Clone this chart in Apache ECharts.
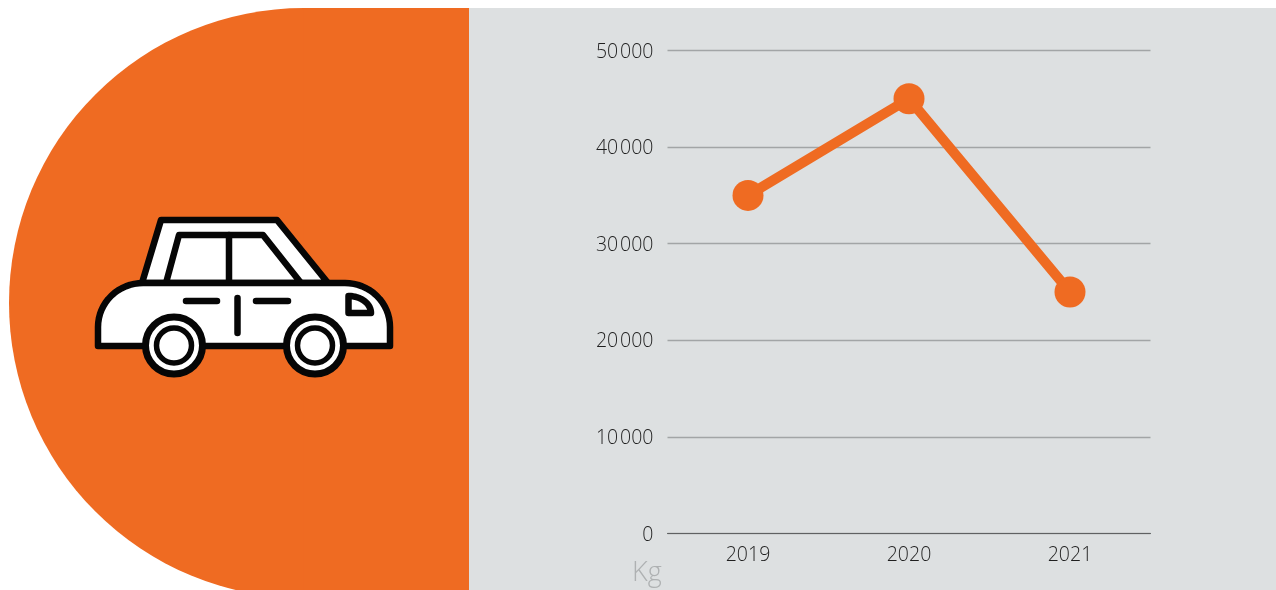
<!DOCTYPE html>
<html>
<head>
<meta charset="utf-8">
<style>html,body{margin:0;padding:0;background:#fff;overflow:hidden}#c{width:1276px;height:590px}</style>
<script src="https://cdn.jsdelivr.net/npm/echarts@6/dist/echarts.min.js"></script>
</head>
<body>
<div id="c"></div>
<script>
const categories = ['2019', '2020', '2021'];
const values = [35000, 45000, 25000];
const yTicks = [0, 10000, 20000, 30000, 40000, 50000];
const unitLabel = 'Kg';

const ORANGE = '#EF6B22', GREY = '#DDE0E1', INK = '#060606';
const carLine = { stroke: INK, lineWidth: 6.5, lineJoin: 'round', lineCap: 'round' };
const poly = (points, fill) => ({ type: 'polygon', silent: true, z: 1, shape: { points }, style: Object.assign({ fill: fill || '#fff' }, carLine) });
const open = (points) => ({ type: 'polyline', silent: true, z: 1, shape: { points }, style: Object.assign({ fill: 'none' }, carLine) });
const corner = (cx, cy, rx, ry, from, to) => {
  const pts = [];
  for (let i = 0; i <= 16; i++) {
    const a = (from + (to - from) * i / 16) * Math.PI / 180;
    pts.push([cx + rx * Math.cos(a), cy + ry * Math.sin(a)]);
  }
  return pts;
};
const wheel = (cx) => [
  { type: 'circle', silent: true, z: 2, shape: { cx, cy: 345.5, r: 28.5 }, style: { fill: '#fff', stroke: INK, lineWidth: 7 } },
  { type: 'circle', silent: true, z: 2, shape: { cx, cy: 345.5, r: 17.5 }, style: { fill: '#fff', stroke: INK, lineWidth: 5.5 } }
];

const chart = echarts.init(document.getElementById('c'), null, { renderer: 'canvas' });
chart.setOption({
  animation: false,
  backgroundColor: '#fff',
  graphic: [
    { type: 'rect', silent: true, z: -2, shape: { x: 469, y: 8, width: 807, height: 582 }, style: { fill: GREY } },
    { type: 'sector', silent: true, z: -1, shape: { cx: 304, cy: 303, r: 295, r0: 0, startAngle: Math.PI / 2, endAngle: Math.PI * 1.5, clockwise: true }, style: { fill: ORANGE } },
    { type: 'rect', silent: true, z: -1, shape: { x: 303.5, y: 8, width: 165.5, height: 582 }, style: { fill: ORANGE } },
    poly([[142, 283], [161, 220], [277, 220], [328, 283]]),
    poly([[166, 283], [179, 235], [263, 235], [301, 283]]),
    open([[229, 235], [229, 283]]),
    poly([[98, 346], ...corner(143, 327, 45, 44, 180, 270), ...corner(345, 327, 45, 44, 270, 360), [390, 346]]),
    open([[186, 301], [217, 301]]),
    open([[256, 301], [288, 301]]),
    open([[237.5, 298], [237.5, 333]]),
    poly([...corner(348.5, 313, 22.5, 17, 270, 360), [348.5, 313]]),
    ...wheel(174),
    ...wheel(315),
    { type: 'text', silent: true, z: 5, style: { x: 632, y: 573, text: unitLabel, fill: '#AEB1B2', font: '300 27px "Open Sans"', textVerticalAlign: 'middle' } }
  ],
  grid: { left: 667.5, top: 50.5, width: 483, height: 483, containLabel: false },
  xAxis: {
    type: 'category',
    data: categories,
    boundaryGap: true,
    axisLine: { show: true, lineStyle: { color: '#5f6162', width: 1 } },
    axisTick: { show: false },
    axisLabel: { color: '#1f1f1f', fontFamily: 'Open Sans', fontWeight: 300, fontSize: 19.5, margin: 12 }
  },
  yAxis: {
    type: 'value',
    min: yTicks[0],
    max: yTicks[yTicks.length - 1],
    interval: yTicks[1] - yTicks[0],
    axisLine: { show: false },
    axisTick: { show: false },
    splitLine: { lineStyle: { color: '#A2A5A6', width: 1.3 } },
    axisLabel: {
      color: '#1f1f1f', fontFamily: 'Open Sans', fontWeight: 300, fontSize: 19.5, margin: 14,
      verticalAlign: 'top', lineHeight: 3,
      formatter: v => String(v).replace(/\B(?=(\d{3})+$)/g, '\u200A')
    }
  },
  series: [{
    type: 'line',
    data: values,
    symbol: 'circle',
    symbolSize: 31,
    lineStyle: { color: ORANGE, width: 10, cap: 'butt' },
    itemStyle: { color: ORANGE },
    z: 3
  }]
});
</script>
</body>
</html>
